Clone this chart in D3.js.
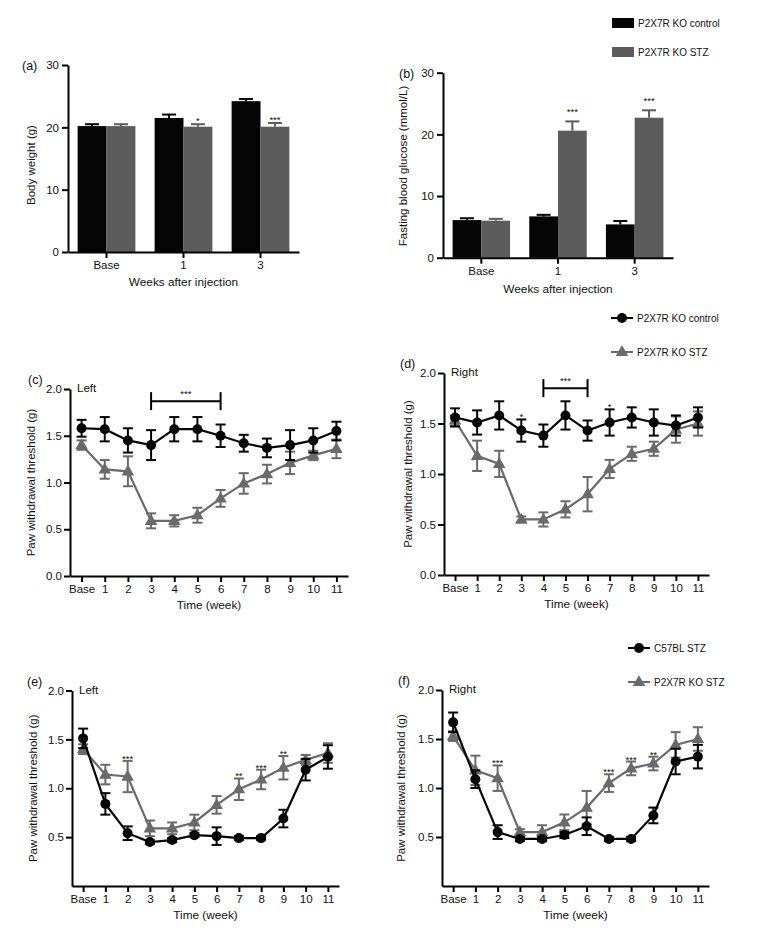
<!DOCTYPE html>
<html><head><meta charset="utf-8">
<script src="https://cdn.jsdelivr.net/npm/d3@7"></script>
<style>
body{margin:0;background:#fff}
svg{display:block}
text{font-family:"Liberation Sans",Arial,sans-serif;fill:#111}
</style>
</head><body><svg id="chart" width="767" height="939"></svg>
<script>
// ---------- data ----------
const barCategories = ["Base", "1", "3"];
const barSeries = ["P2X7R KO control", "P2X7R KO STZ"];
const barYTicks = [0, 10, 20, 30];
const bodyWeightControl = [20.2, 21.5, 24.2];
const bodyWeightControlErr = [0.3, 0.55, 0.35];
const bodyWeightSTZ = [20.2, 20.1, 20.1];
const bodyWeightSTZErr = [0.3, 0.4, 0.6];
const bodyWeightStars = ["", "*", "***"];
const glucoseControl = [6.1, 6.7, 5.4];
const glucoseControlErr = [0.3, 0.25, 0.55];
const glucoseSTZ = [6.0, 20.6, 22.7];
const glucoseSTZErr = [0.3, 1.5, 1.2];
const glucoseStars = ["", "***", "***"];

const weeks = ["Base", "1", "2", "3", "4", "5", "6", "7", "8", "9", "10", "11"];
const yTicksCD = [0, 0.5, 1.0, 1.5, 2.0];
const yTicksEF = [0.5, 1.0, 1.5, 2.0];
const lineSeriesCD = ["P2X7R KO control", "P2X7R KO STZ"];
const lineSeriesEF = ["C57BL STZ", "P2X7R KO STZ"];

const leftControl = [1.58, 1.57, 1.45, 1.40, 1.57, 1.57, 1.50, 1.42, 1.37, 1.40, 1.45, 1.55];
const leftControlErr = [0.09, 0.13, 0.13, 0.16, 0.13, 0.13, 0.12, 0.09, 0.10, 0.16, 0.13, 0.10];
const leftKOSTZ = [1.40, 1.14, 1.12, 0.59, 0.59, 0.65, 0.83, 0.99, 1.09, 1.21, 1.29, 1.36];
const leftKOSTZErr = [0.05, 0.10, 0.16, 0.08, 0.06, 0.08, 0.09, 0.11, 0.10, 0.12, 0.05, 0.10];
const leftBracket = ["3", "6", "***"];
const leftBracketLevel = 1.87;

const rightControl = [1.56, 1.51, 1.58, 1.43, 1.38, 1.58, 1.43, 1.51, 1.56, 1.51, 1.48, 1.56];
const rightControlErr = [0.09, 0.12, 0.14, 0.11, 0.11, 0.14, 0.10, 0.13, 0.10, 0.13, 0.10, 0.10];
const rightKOSTZ = [1.53, 1.18, 1.10, 0.55, 0.55, 0.65, 0.80, 1.05, 1.20, 1.25, 1.44, 1.50];
const rightKOSTZErr = [0.05, 0.15, 0.13, 0.03, 0.07, 0.08, 0.17, 0.09, 0.07, 0.07, 0.13, 0.12];
const rightControlStars = ["", "", "", "*", "", "", "", "*", "", "", "", ""];
const rightBracket = ["4", "6", "***"];
const rightBracketLevel = 1.85;

const leftC57STZ = [1.51, 0.84, 0.54, 0.45, 0.47, 0.52, 0.51, 0.49, 0.49, 0.69, 1.19, 1.32];
const leftC57STZErr = [0.10, 0.11, 0.07, 0.02, 0.02, 0.02, 0.09, 0.02, 0.02, 0.09, 0.11, 0.12];
const leftSTZStars = ["", "", "***", "", "", "", "", "**", "***", "**", "", ""];

const rightC57STZ = [1.67, 1.09, 0.55, 0.48, 0.48, 0.52, 0.61, 0.48, 0.48, 0.72, 1.27, 1.32];
const rightC57STZErr = [0.10, 0.09, 0.07, 0.02, 0.02, 0.03, 0.09, 0.02, 0.02, 0.08, 0.13, 0.12];
const rightSTZStars = ["", "", "***", "", "", "", "", "***", "***", "**", "", ""];

// ---------- styling ----------
const BLACK = "#050505";
const GRAY_BAR = "#5c5c5c";
const GRAY_LINE = "#6a6a6a";
const svg = d3.select("#chart");

function styleAxis(g) {
  g.selectAll("path,line").attr("stroke", "#000").attr("stroke-width", 2);
  g.selectAll("text").style("font-size", "11.5px").attr("fill", "#111");
}

function text(x, y, s, size, anchor, rot) {
  const t = svg.append("text").attr("x", x).attr("y", y).text(s)
    .style("font-size", size + "px").attr("text-anchor", anchor || "start");
  if (rot) t.attr("transform", `rotate(-90,${x},${y})`);
  return t;
}

// ---------- bar panels ----------
function barPanel(cfg) {
  const g = svg.append("g");
  const x = d3.scaleBand().domain(barCategories).range([cfg.x0, cfg.x1]).paddingInner(0.25).paddingOuter(0.125);
  const xs = d3.scaleBand().domain(barSeries).range([0, x.bandwidth()]);
  const y = d3.scaleLinear().domain([0, 30]).range([cfg.yb, cfg.yt]);
  const series = [
    {name: barSeries[0], vals: cfg.control, errs: cfg.controlErr, color: BLACK},
    {name: barSeries[1], vals: cfg.stz, errs: cfg.stzErr, color: GRAY_BAR}
  ];
  series.forEach(s => {
    const data = barCategories.map((c, i) => ({c, v: s.vals[i], e: s.errs[i]}));
    const bx = d => x(d.c) + xs(s.name);
    g.selectAll(null).data(data).join("rect")
      .attr("x", bx).attr("width", xs.bandwidth())
      .attr("y", d => y(d.v)).attr("height", d => y(0) - y(d.v))
      .attr("fill", s.color);
    g.selectAll(null).data(data).join("line")
      .attr("x1", d => bx(d) + xs.bandwidth() / 2).attr("x2", d => bx(d) + xs.bandwidth() / 2)
      .attr("y1", d => y(d.v)).attr("y2", d => y(d.v + d.e))
      .attr("stroke", s.color).attr("stroke-width", 2);
    g.selectAll(null).data(data).join("line")
      .attr("x1", d => bx(d) + xs.bandwidth() / 2 - 7).attr("x2", d => bx(d) + xs.bandwidth() / 2 + 7)
      .attr("y1", d => y(d.v + d.e)).attr("y2", d => y(d.v + d.e))
      .attr("stroke", s.color).attr("stroke-width", 2);
  });
  const starData = barCategories.map((c, i) => ({c, s: cfg.stars[i], top: cfg.stz[i] + cfg.stzErr[i]}));
  g.selectAll(null).data(starData).join("text")
    .attr("x", d => x(d.c) + xs(barSeries[1]) + xs.bandwidth() / 2)
    .attr("y", d => y(d.top) - cfg.starGap)
    .attr("text-anchor", "middle").style("font-size", "9.5px").text(d => d.s);

  const ya = d3.axisLeft(y).tickValues(barYTicks).tickSize(6).tickSizeOuter(0).tickPadding(3);
  g.append("g").attr("transform", `translate(${cfg.x0},0)`).call(ya).call(styleAxis);
  const xa = d3.axisBottom(x).tickSize(6).tickSizeOuter(0).tickPadding(3);
  g.append("g").attr("transform", `translate(0,${cfg.yb})`).call(xa).call(styleAxis);

  text(cfg.labelX, cfg.yt + 5, cfg.label, 12.5);
  text((cfg.x0 + cfg.x1) / 2, cfg.yb + cfg.xTitleGap, "Weeks after injection", 11.8, "middle");
  text(cfg.yTitleX, cfg.yTitleY, cfg.yTitle, 11.5, "middle", true);
}

barPanel({x0: 68, x1: 299, yt: 65, yb: 252, control: bodyWeightControl, controlErr: bodyWeightControlErr,
  stz: bodyWeightSTZ, stzErr: bodyWeightSTZErr, stars: bodyWeightStars, starGap: 0,
  label: "(a)", labelX: 22, xTitleGap: 34, yTitleX: 35, yTitleY: 165, yTitle: "Body weight (g)"});
barPanel({x0: 443, x1: 673, yt: 72.7, yb: 257.7, control: glucoseControl, controlErr: glucoseControlErr,
  stz: glucoseSTZ, stzErr: glucoseSTZErr, stars: glucoseStars, starGap: 6,
  label: "(b)", labelX: 399, xTitleGap: 35, yTitleX: 407, yTitleY: 166, yTitle: "Fasting blood glucose (mmol/L)"});

// bar legend
barSeries.forEach((s, i) => {
  const yy = 18 + i * 29;
  svg.append("rect").attr("x", 612).attr("y", yy).attr("width", 22).attr("height", 10)
    .attr("fill", i === 0 ? BLACK : GRAY_BAR);
  text(638, yy + 9, s, 10);
});

// ---------- line panels ----------
function marker(sel, kind, color) {
  if (kind === "circle") {
    sel.append("circle").attr("r", 5).attr("fill", color);
  } else {
    sel.append("path").attr("d", d3.symbol().type(d3.symbolTriangle).size(68)()).attr("fill", color)
      .attr("transform", "translate(0,0.5)");
  }
}

function linePanel(cfg) {
  const g = svg.append("g");
  const x = d3.scalePoint().domain(weeks).range([cfg.x0, cfg.x1]).padding(0.5);
  const y = d3.scaleLinear().domain([0, 2]).range([cfg.yb, cfg.yt]);

  const ya = d3.axisLeft(y).tickValues(cfg.yTicks).tickFormat(d3.format(".1f")).tickSize(6).tickSizeOuter(0).tickPadding(2);
  g.append("g").attr("transform", `translate(${cfg.x0},0)`).call(ya).call(styleAxis);
  const xa = d3.axisBottom(x).tickSize(6).tickSizeOuter(0).tickPadding(3);
  g.append("g").attr("transform", `translate(0,${cfg.yb})`).call(xa).call(styleAxis);

  cfg.series.forEach(s => {
    const pts = weeks.map((w, i) => ({w, v: s.vals[i], e: s.errs[i]}));
    const sg = g.append("g");
    sg.append("path").datum(pts)
      .attr("d", d3.line().x(d => x(d.w)).y(d => y(d.v)))
      .attr("fill", "none").attr("stroke", s.color).attr("stroke-width", 2.2);
    sg.selectAll(null).data(pts).join("line")
      .attr("x1", d => x(d.w)).attr("x2", d => x(d.w))
      .attr("y1", d => y(d.v - d.e)).attr("y2", d => y(d.v + d.e))
      .attr("stroke", s.color).attr("stroke-width", 2);
    [1, -1].forEach(sign => {
      sg.selectAll(null).data(pts).join("line")
        .attr("x1", d => x(d.w) - 5).attr("x2", d => x(d.w) + 5)
        .attr("y1", d => y(d.v + sign * d.e)).attr("y2", d => y(d.v + sign * d.e))
        .attr("stroke", s.color).attr("stroke-width", 2);
    });
    sg.selectAll(null).data(pts).join("g")
      .attr("transform", d => `translate(${x(d.w)},${y(d.v)})`)
      .each(function () { marker(d3.select(this), s.marker, s.color); });
  });

  if (cfg.stars) {
    const src = cfg.starSeries ? [cfg.starSeries] : cfg.series;
    const sd = weeks.map((w, i) => ({w, s: cfg.stars[i],
      top: Math.max(...src.map(s => s.vals[i] + s.errs[i]))}));
    g.selectAll(null).data(sd.filter(d => d.s)).join("text")
      .attr("x", d => x(d.w)).attr("y", d => y(d.top) + 1)
      .attr("text-anchor", "middle").style("font-size", "9.5px").text(d => d.s);
  }
  if (cfg.bracket) {
    const bx0 = x(cfg.bracket[0]), bx1 = x(cfg.bracket[1]), by = y(cfg.bracketLevel);
    const bg = g.append("g").attr("stroke", "#000").attr("stroke-width", 2);
    bg.append("line").attr("x1", bx0).attr("x2", bx1).attr("y1", by).attr("y2", by);
    bg.append("line").attr("x1", bx0).attr("x2", bx0).attr("y1", by - 9).attr("y2", by + 9);
    bg.append("line").attr("x1", bx1).attr("x2", bx1).attr("y1", by - 9).attr("y2", by + 9);
    text((bx0 + bx1) / 2, by - 4, cfg.bracket[2], 9.5, "middle");
  }

  text(cfg.labelX, cfg.yt - 5, cfg.label, 12.5);
  text(cfg.x0 + 7, cfg.yt + 3, cfg.side, 11.5);
  text((cfg.x0 + cfg.x1) / 2, cfg.yb + 33, "Time (week)", 11.8, "middle");
  text(cfg.yTitleX, (cfg.yt + cfg.yb) / 2, "Paw withdrawal threshold (g)", 11.5, "middle", true);
}

linePanel({x0: 70, x1: 348, yt: 389, yb: 576, yTicks: yTicksCD, label: "(c)", labelX: 28, side: "Left", yTitleX: 35,
  series: [
    {vals: leftKOSTZ, errs: leftKOSTZErr, color: GRAY_LINE, marker: "triangle"},
    {vals: leftControl, errs: leftControlErr, color: BLACK, marker: "circle"}],
  bracket: leftBracket, bracketLevel: leftBracketLevel});

linePanel({x0: 444, x1: 709, yt: 373, yb: 575, yTicks: yTicksCD, label: "(d)", labelX: 400, side: "Right", yTitleX: 412,
  series: [
    {vals: rightKOSTZ, errs: rightKOSTZErr, color: GRAY_LINE, marker: "triangle"},
    {vals: rightControl, errs: rightControlErr, color: BLACK, marker: "circle"}],
  stars: rightControlStars, starSeries: {vals: rightControl, errs: rightControlErr},
  bracket: rightBracket, bracketLevel: rightBracketLevel});

linePanel({x0: 72, x1: 339, yt: 690.5, yb: 886, yTicks: yTicksEF, label: "(e)", labelX: 27, side: "Left", yTitleX: 37,
  series: [
    {vals: leftKOSTZ, errs: leftKOSTZErr, color: GRAY_LINE, marker: "triangle"},
    {vals: leftC57STZ, errs: leftC57STZErr, color: BLACK, marker: "circle"}],
  stars: leftSTZStars});

linePanel({x0: 442, x1: 709, yt: 690, yb: 886, yTicks: yTicksEF, label: "(f)", labelX: 398, side: "Right", yTitleX: 405,
  series: [
    {vals: rightKOSTZ, errs: rightKOSTZErr, color: GRAY_LINE, marker: "triangle"},
    {vals: rightC57STZ, errs: rightC57STZErr, color: BLACK, marker: "circle"}],
  stars: rightSTZStars});

// line legends
function lineLegend(x0, y0, names) {
  names.forEach((n, i) => {
    const yy = y0 + i * 34;
    const color = i === 0 ? BLACK : GRAY_LINE;
    svg.append("line").attr("x1", x0).attr("x2", x0 + 22).attr("y1", yy).attr("y2", yy)
      .attr("stroke", color).attr("stroke-width", 2);
    const m = svg.append("g").attr("transform", `translate(${x0 + 11},${yy})`);
    marker(m, i === 0 ? "circle" : "triangle", color);
    text(x0 + 26, yy + 3.5, n, 10);
  });
}
lineLegend(611, 318, lineSeriesCD);
lineLegend(628, 648, lineSeriesEF);
</script>
</body></html>
